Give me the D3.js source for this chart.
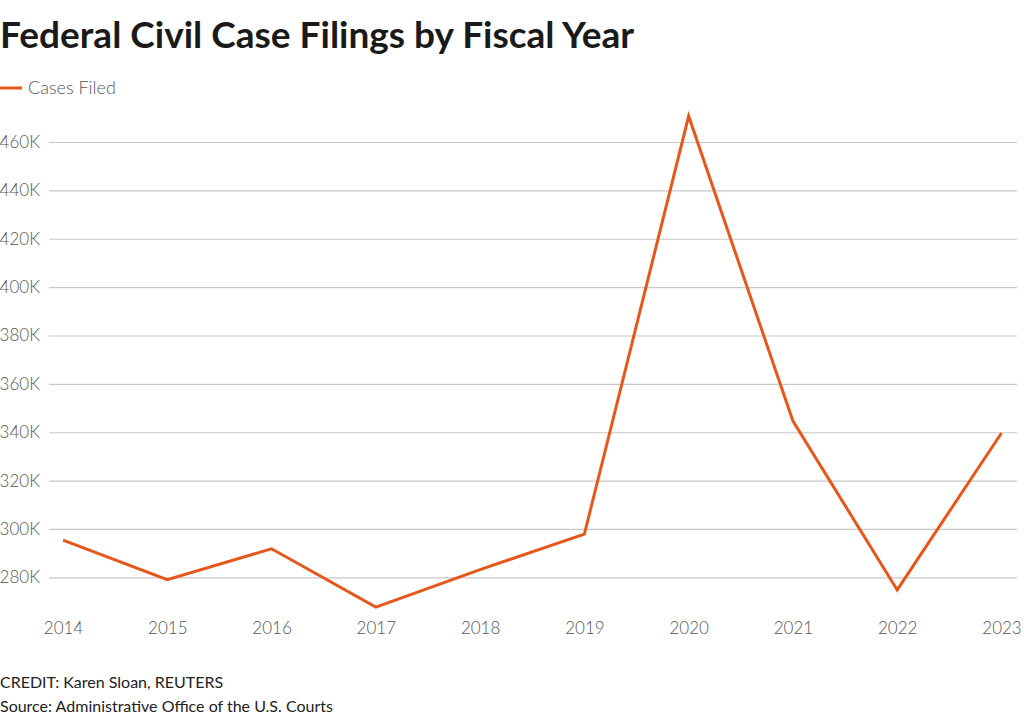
<!DOCTYPE html>
<html><head><meta charset="utf-8">
<script src="https://cdn.jsdelivr.net/npm/d3@7"></script>
<style>body{margin:0;background:#fff}svg{display:block}</style>
</head><body>
<script>
const years = ["2014","2015","2016","2017","2018","2019","2020","2021","2022","2023"];
const casesFiled = [295400, 279000, 291800, 267700, 283200, 297900, 470700, 344600, 274800, 339700];
const yTicks = [280000,300000,320000,340000,360000,380000,400000,420000,440000,460000];
const seriesName = "Cases Filed";

const W=1024,H=721;
const svg=d3.select("body").append("svg").attr("width",W).attr("height",H);
const font="Lato, 'Noto Sans', sans-serif";

svg.append("text").attr("x",0).attr("y",48).text("Federal Civil Case Filings by Fiscal Year")
  .attr("font-family",font).attr("font-weight",700).attr("font-size",37).attr("fill","#1a1a1a");

svg.append("line").attr("x1",0).attr("x2",22).attr("y1",88).attr("y2",88).attr("stroke","#e5571a").attr("stroke-width",3);
svg.append("text").attr("x",28).attr("y",94).text(seriesName).attr("font-family",font).attr("font-size",18).attr("font-weight",300).attr("fill","#555");

const x=d3.scalePoint().domain(years).range([63,1001.5]);
const y=d3.scaleLinear().domain([266000,472000]).range([611.2,113.0]);

const gy=svg.append("g").attr("transform","translate(49,0)")
  .call(d3.axisLeft(y).tickValues(yTicks).tickSize(-968).tickPadding(9).tickFormat(d=>d/1000+"K"));
gy.select(".domain").remove();
gy.selectAll(".tick line").attr("stroke","#c8c8c8").attr("stroke-width",1.2);
gy.selectAll(".tick text").attr("font-family",font).attr("font-size",17).attr("font-weight",300).attr("fill","#555");

const gx=svg.append("g").attr("transform","translate(0,615)")
  .call(d3.axisBottom(x).tickSize(0).tickPadding(7));
gx.select(".domain").remove();
gx.selectAll(".tick text").attr("font-family",font).attr("font-size",17).attr("font-weight",300).attr("fill","#555");

svg.append("path").datum(casesFiled.map((v,i)=>[years[i],v]))
  .attr("d",d3.line().x(d=>x(d[0])).y(d=>y(d[1])))
  .attr("fill","none").attr("stroke","#e5571a").attr("stroke-width",3).attr("stroke-linejoin","miter");

svg.append("text").attr("x",0).attr("y",688).text("CREDIT: Karen Sloan, REUTERS").attr("font-family",font).attr("font-size",16).attr("fill","#222");
svg.append("text").attr("x",0).attr("y",712).text("Source: Administrative Office of the U.S. Courts").attr("font-family",font).attr("font-size",16).attr("fill","#222");
</script>
</body></html>
